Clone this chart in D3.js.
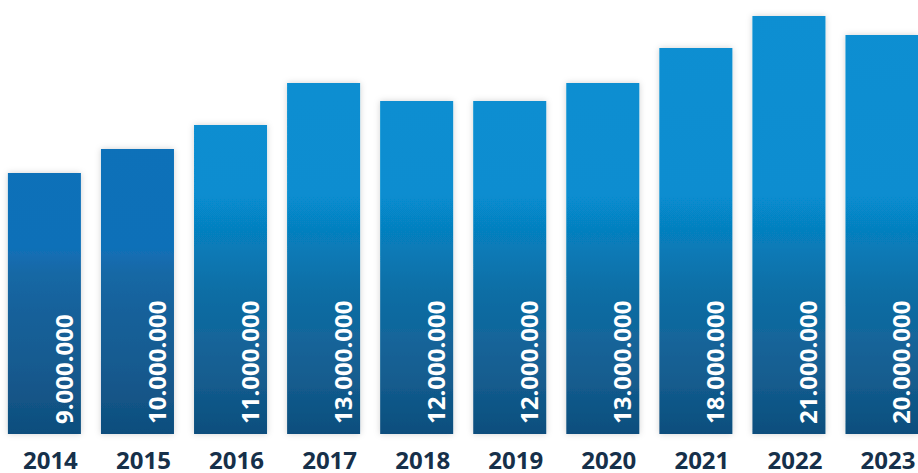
<!DOCTYPE html>
<html>
<head>
    <title>Besucher 2014-2023</title>
    <script src="https://cdnjs.cloudflare.com/ajax/libs/d3/7.8.5/d3.min.js"></script>
    <style>
        body { margin: 0; background: #fff; overflow: hidden; }
        svg { display: block; font-family: "Open Sans", sans-serif; }
        .year { font-size: 24px; font-weight: 700; fill: #16304a; }
        .value { font-size: 24px; font-weight: 700; fill: #fff; }
    </style>
</head>
<body>
    <div id="chart"></div>
    <script>
        // Data
        const years = ["2014", "2015", "2016", "2017", "2018", "2019", "2020", "2021", "2022", "2023"];
        const visitors = [9000000, 10000000, 11000000, 13000000, 12000000, 12000000, 13000000, 18000000, 21000000, 20000000];

        const width = 918, height = 473;
        const base = 434;

        const svg = d3.select("#chart")
            .append("svg")
                .attr("width", width)
                .attr("height", height);

        const defs = svg.append("defs");

        // soft drop shadow round each bar
        const shadow = defs.append("filter")
            .attr("id", "shadow")
            .attr("x", "-30%").attr("y", "-10%")
            .attr("width", "160%").attr("height", "120%");
        shadow.append("feDropShadow")
            .attr("dx", 0).attr("dy", 0)
            .attr("stdDeviation", 3)
            .attr("flood-color", "#000")
            .attr("flood-opacity", 0.18);

        // gradients are laid out over the whole plot height (user space)
        function gradient(id, stops) {
            const g = defs.append("linearGradient")
                .attr("id", id)
                .attr("gradientUnits", "userSpaceOnUse")
                .attr("x1", 0).attr("x2", 0)
                .attr("y1", 0).attr("y2", base);
            stops.forEach(s => g.append("stop")
                .attr("offset", s[0])
                .attr("stop-color", s[1]));
        }
        gradient("gradLight", [
            [0, "#078fd2"], [0.45, "#078dd0"], [0.53, "#0680bf"],
            [0.67, "#0a6ea5"], [0.78, "#13659a"], [0.88, "#135c8e"], [1, "#0b4e7d"]
        ]);
        gradient("gradDark", [
            [0, "#1172ba"], [0.57, "#1070b8"], [0.63, "#1868a5"],
            [0.72, "#17619a"], [0.85, "#165a8f"], [1, "#0e4e7d"]
        ]);

        const x = d3.scaleBand()
            .domain(years)
            .range([-1.4, 927.8])
            .paddingInner(0.2156)
            .paddingOuter(0.1);

        // bar heights in the original are not proportional: piecewise scale
        const y = d3.scaleLinear()
            .domain([0, 9e6, 12e6, 13e6, 18e6, 20e6, 21e6])
            .range([base, 173, 101, 83, 48, 35, 16]);

        const de = d3.formatLocale({decimal: ",", thousands: ".", grouping: [3], currency: ["", " €"]});
        const fmt = de.format(",d");

        const data = years.map((yr, i) => ({year: yr, value: visitors[i], i: i}));

        svg.selectAll("rect.bar")
            .data(data)
            .join("rect")
                .attr("class", "bar")
                .attr("x", d => x(d.year))
                .attr("y", d => y(d.value))
                .attr("width", x.bandwidth())
                .attr("height", d => base - y(d.value))
                .attr("fill", d => d.i < 2 ? "url(#gradDark)" : "url(#gradLight)")
                .attr("filter", "url(#shadow)");

        svg.selectAll("text.value")
            .data(data)
            .join("text")
                .attr("class", "value")
                .attr("transform", d => `translate(${x(d.year) + x.bandwidth() - 8},${base - 10}) rotate(-90)`)
                .attr("text-anchor", "start")
                .text(d => fmt(d.value));

        // year axis
        const axis = svg.append("g")
            .attr("transform", `translate(0,${base})`);
        axis.selectAll("text.year")
            .data(years)
            .join("text")
                .attr("class", "year")
                .attr("x", d => x(d) + x.bandwidth() / 2 + 6)
                .attr("y", 35)
                .attr("text-anchor", "middle")
                .text(d => d);
    </script>
</body>
</html>
